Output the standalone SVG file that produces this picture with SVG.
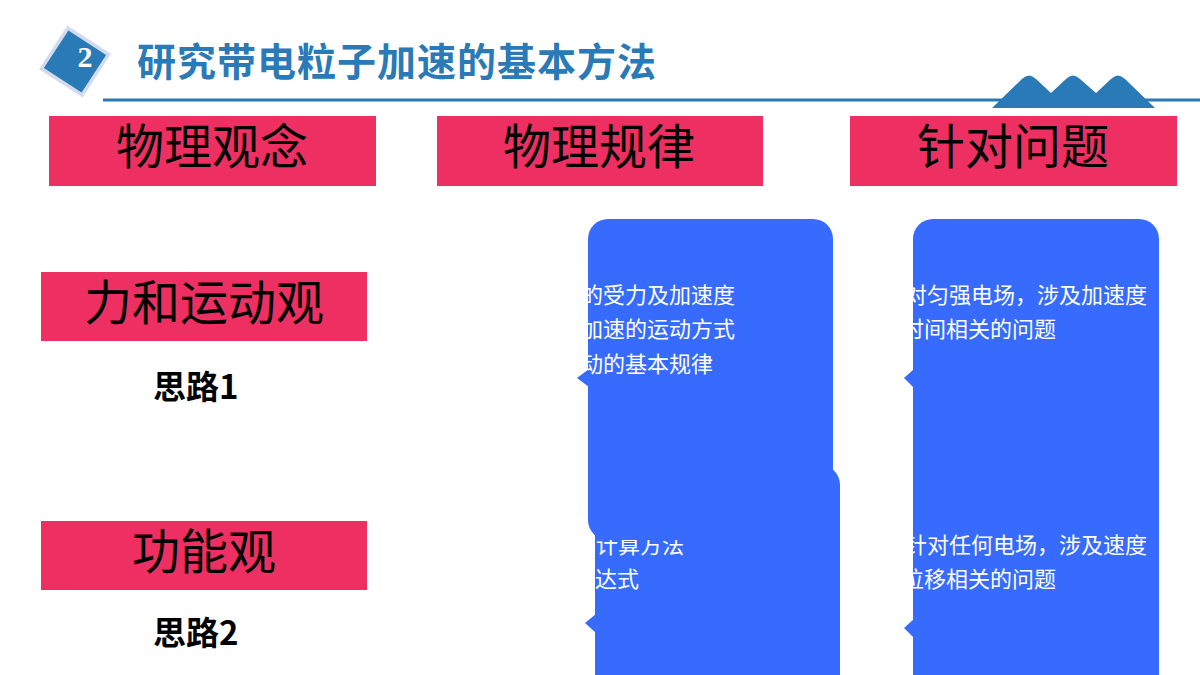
<svg xmlns="http://www.w3.org/2000/svg" width="1200" height="675" viewBox="0 0 1200 675">
<style>
.hdr{fill:#ED2F62}
.hdrt{font-family:"Noto Sans CJK SC","Noto Sans CJK JP",sans-serif;font-size:48px;fill:#000;text-anchor:middle}
.path{font-family:"Noto Sans CJK SC","Noto Sans CJK JP",sans-serif;font-size:33px;font-weight:700;fill:#000}
.card{fill:#376BFE}
.body{font-family:"Noto Sans CJK SC","Noto Sans CJK JP",sans-serif;font-size:22px;fill:#fff}
.blue{fill:#2A7AB8}
</style>
<defs>
<clipPath id="c1"><rect x="588" y="219" width="245" height="321" rx="20"/></clipPath>
<clipPath id="c2"><rect x="595" y="465" width="245" height="240" rx="20"/></clipPath>
<clipPath id="c3"><rect x="913" y="219" width="246" height="321" rx="20"/></clipPath>
<clipPath id="c4"><rect x="913" y="480" width="246" height="240" rx="20"/></clipPath>
</defs>
<rect width="1200" height="675" fill="#fff"/>

<g id="title">
<line x1="103" y1="100" x2="1200" y2="100" stroke="#2A7AB8" stroke-width="3"/>
<path class="blue" d="M992,108 L1022,79 Q1029,72 1036,79 L1051,93 L1066,79 Q1073,72 1080,79 L1096,93 L1111,79 Q1118,72 1125,79 L1155,108 Z"/>
<g transform="translate(75,61.5) rotate(33)">
<rect x="-26" y="-26" width="52" height="52" fill="#D3DBEE"/>
<rect x="-22.5" y="-22.5" width="45" height="45" fill="#2A7AB8"/>
</g>
<text x="85" y="67" font-family="Liberation Serif,serif" font-size="30" font-weight="700" fill="#fff" text-anchor="middle">2</text>
<text x="137" y="76" font-family="Noto Sans CJK SC,Noto Sans CJK JP,sans-serif" font-size="39" font-weight="700" letter-spacing="1" fill="#2A7AB8">研究带电粒子加速的基本方法</text>
</g>

<g id="hdr-concept"><rect class="hdr" x="49" y="116" width="327" height="70"/><text class="hdrt" x="212" y="164">物理观念</text></g>
<g id="hdr-law"><rect class="hdr" x="437" y="116" width="326" height="70"/><text class="hdrt" x="599" y="164">物理规律</text></g>
<g id="hdr-problem"><rect class="hdr" x="850" y="116" width="327" height="70"/><text class="hdrt" x="1013" y="164">针对问题</text></g>

<g id="view-force"><rect class="hdr" x="41" y="272" width="326" height="69"/><text class="hdrt" x="204" y="320">力和运动观</text></g>
<g id="idea1"><text class="path" x="153" y="399">思路1</text></g>
<g id="view-energy"><rect class="hdr" x="41" y="521" width="326" height="69"/><text class="hdrt" x="204" y="569">功能观</text></g>
<g id="idea2"><text class="path" x="153" y="645">思路2</text></g>

<g id="law2">
<rect class="card" x="595" y="465" width="245" height="240" rx="20"/>
<polygon class="card" points="596,614 585,623 596,633"/>
<g clip-path="url(#c2)">
<text class="body" x="596" y="553">计算方法</text>
<text class="body" x="595" y="587">达式</text>
</g>
</g>
<g id="law1">
<rect class="card" x="588" y="219" width="245" height="321" rx="20"/>
<polygon class="card" points="589,369 577,378 589,387"/>
<g clip-path="url(#c1)">
<text class="body" x="581" y="303">的受力及加速度</text>
<text class="body" x="581" y="337">加速的运动方式</text>
<text class="body" x="581" y="372">动的基本规律</text>
</g>
</g>

<g id="prob1">
<rect class="card" x="913" y="219" width="246" height="321" rx="20"/>
<polygon class="card" points="914,369 904,378 914,388"/>
<g clip-path="url(#c3)">
<text class="body" x="905" y="303">对匀强电场，涉及加速度</text>
<text class="body" x="902" y="337">时间相关的问题</text>
</g>
</g>
<g id="prob2">
<rect class="card" x="913" y="480" width="246" height="240" rx="20"/>
<polygon class="card" points="914,619 904,628 914,638"/>
<g clip-path="url(#c4)">
<text class="body" x="905" y="553">针对任何电场，涉及速度</text>
<text class="body" x="902" y="587">位移相关的问题</text>
</g>
</g>

<g id="connectors"></g>
</svg>
